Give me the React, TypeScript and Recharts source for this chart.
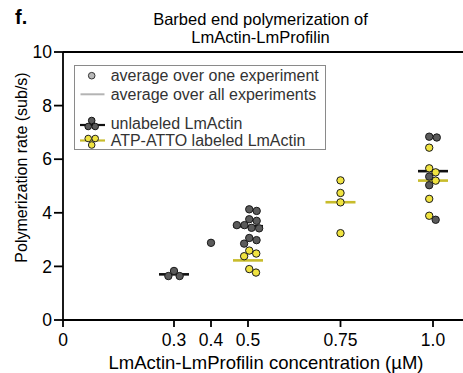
import React from 'react';
import { ScatterChart, Scatter, XAxis, YAxis, ReferenceLine, Label } from 'recharts';

// ---- data ----
const xTickValues = [0, 0.3, 0.4, 0.5, 0.75, 1.0];
const xTickLabels = ['0', '0.3', '0.4', '0.5', '0.75', '1.0'];
const yTickValues = [0, 2, 4, 6, 8, 10];

const unlabeledConc = [0.3, 0.3, 0.3, 0.4, 0.5, 0.5, 0.5, 0.5, 0.5, 0.5, 0.5, 0.5, 0.5, 0.5, 0.5, 1.0, 1.0, 1.0, 1.0, 1.0];
const unlabeledRate = [1.64, 1.83, 1.64, 2.88, 4.13, 4.07, 3.76, 3.7, 3.44, 3.42, 3.54, 3.54, 2.98, 2.85, 3.06, 6.84, 6.81, 5.35, 5.03, 3.74];

const labeledConc = [0.5, 0.5, 0.5, 0.5, 0.5, 0.75, 0.75, 0.75, 0.75, 1.0, 1.0, 1.0, 1.0, 1.0, 1.0];
const labeledRate = [2.48, 2.38, 2.59, 1.9, 1.77, 5.21, 4.74, 4.39, 3.24, 6.43, 5.66, 5.51, 5.2, 4.52, 3.89];

const title = ['Barbed end polymerization of', 'LmActin-LmProfilin'];
const xLabel = 'LmActin-LmProfilin concentration (µM)';
const yLabel = 'Polymerization rate (sub/s)';
const legendLabels = ['average over one experiment', 'average over all experiments', 'unlabeled LmActin', 'ATP-ATTO labeled LmActin'];

// ---- styling / layout ----
const FONT = '"Liberation Sans", Arial, Helvetica, sans-serif';
const CHART_W = 470;
const CHART_H = 373;
const TOP = 52;
const X_AXIS_H = 53;
const Y_AXIS_W = 63;
const PLOT_H = CHART_H - TOP - X_AXIS_H;
const PX_PER_UNIT = PLOT_H / 10;
const R = 3.7;
const D = 2 * R + 0.2;

const DARK = '#5b5b5b';
const YELLOW = '#f0e340';
const YELLOW_LINE = '#c8bc2c';

type Pt = { conc: number; rate: number; series: string; dx: number };

function buildPoints(): Pt[] {
  const pts: Pt[] = [];
  unlabeledConc.forEach((c, i) => pts.push({ conc: c, rate: unlabeledRate[i], series: 'u', dx: 0 }));
  labeledConc.forEach((c, i) => pts.push({ conc: c, rate: labeledRate[i], series: 'l', dx: 0 }));
  // beeswarm per concentration (both series together)
  const groups = new Map<number, Pt[]>();
  pts.forEach((p) => {
    if (!groups.has(p.conc)) groups.set(p.conc, []);
    groups.get(p.conc)!.push(p);
  });
  groups.forEach((g) => {
    const order = [...g].sort((a, b) => b.rate - a.rate);
    const placed: { x: number; y: number }[] = [];
    order.forEach((p) => {
      const py = p.rate * PX_PER_UNIT;
      const cands = [0];
      placed.forEach((q) => {
        const dy = py - q.y;
        if (Math.abs(dy) < D) {
          const w = Math.sqrt(D * D - dy * dy);
          cands.push(q.x + w, q.x - w);
        }
      });
      cands.sort((a, b) => Math.abs(a) - Math.abs(b));
      let chosen = 0;
      for (const c of cands) {
        const ok = placed.every((q) => (c - q.x) ** 2 + (py - q.y) ** 2 >= D * D - 1e-6);
        if (ok) {
          chosen = c;
          break;
        }
      }
      placed.push({ x: chosen, y: py });
      p.dx = chosen;
    });
    const xs = order.map((p) => p.dx);
    const mid = (Math.min(...xs) + Math.max(...xs)) / 2;
    order.forEach((p) => (p.dx -= mid));
  });
  return pts;
}

const allPoints = buildPoints();
const unlabeledData = allPoints.filter((p) => p.series === 'u');
const labeledData = allPoints.filter((p) => p.series === 'l');

function groupMeans(conc: number[], rate: number[]) {
  const m = new Map<number, number[]>();
  conc.forEach((c, i) => {
    if (!m.has(c)) m.set(c, []);
    m.get(c)!.push(rate[i]);
  });
  const out: { conc: number; rate: number }[] = [];
  m.forEach((v, c) => {
    if (v.length > 1) out.push({ conc: c, rate: v.reduce((a, b) => a + b, 0) / v.length });
  });
  return out;
}
const unlabeledMeans = groupMeans(unlabeledConc, unlabeledRate);
const labeledMeans = groupMeans(labeledConc, labeledRate);

const makeDot = (fill: string) => (props: any) => {
  const { cx, cy, payload } = props;
  if (cx == null || cy == null) return <g />;
  return <circle cx={cx + (payload?.dx || 0)} cy={cy} r={R} fill={fill} stroke="#1a1a1a" strokeWidth={1} />;
};

const makeMeanLine = (color: string) => (props: any) => {
  const { cx, cy } = props;
  if (cx == null || cy == null) return <g />;
  return <line x1={cx - 15} x2={cx + 15} y1={cy} y2={cy} stroke={color} strokeWidth={2.6} />;
};

const LegendBox = () => (
  <div
    style={{
      position: 'absolute',
      left: 74,
      top: 65,
      width: 252,
      height: 85,
      border: '1px solid #8a8a8a',
      boxSizing: 'border-box',
      background: '#fff',
    }}
  >
    <svg width={252} height={85} style={{ position: 'absolute', left: -1, top: -1, overflow: 'visible' }}>
      <g fontFamily={FONT} fontSize={16} fill="#333">
        <circle cx={17.7} cy={10.7} r={3.3} fill="#b8b8b8" stroke="#333" strokeWidth={1} />
        <text x={36.7} y={10.7} dominantBaseline="central">{legendLabels[0]}</text>
        <line x1={6.5} x2={30.5} y1={29.3} y2={29.3} stroke="#b4b4b4" strokeWidth={2} />
        <text x={36.7} y={29.3} dominantBaseline="central">{legendLabels[1]}</text>
        <line x1={6} x2={31} y1={60} y2={60} stroke="#111" strokeWidth={2.2} />
        <circle cx={17.7} cy={55.5} r={3.3} fill={DARK} stroke="#111" strokeWidth={1} />
        <circle cx={14.2} cy={61.5} r={3.3} fill={DARK} stroke="#111" strokeWidth={1} />
        <circle cx={21.2} cy={61.5} r={3.3} fill={DARK} stroke="#111" strokeWidth={1} />
        <text x={36.7} y={58.3} dominantBaseline="central">{legendLabels[2]}</text>
        <line x1={6} x2={31} y1={75.5} y2={75.5} stroke={YELLOW_LINE} strokeWidth={2.2} />
        <circle cx={14.2} cy={73.5} r={3.3} fill={YELLOW} stroke="#222" strokeWidth={1} />
        <circle cx={21.2} cy={73.5} r={3.3} fill={YELLOW} stroke="#222" strokeWidth={1} />
        <circle cx={17.7} cy={80} r={3.3} fill={YELLOW} stroke="#222" strokeWidth={1} />
        <text x={36.7} y={75.3} dominantBaseline="central">{legendLabels[3]}</text>
      </g>
    </svg>
  </div>
);

export default function App() {
  return (
    <div style={{ position: 'absolute', left: 0, top: 0, width: 463, height: 373, overflow: 'hidden', fontFamily: FONT }}>
      <ScatterChart
        width={CHART_W}
        height={CHART_H}
        margin={{ top: TOP, right: 0, bottom: 0, left: 0 }}
        style={{ fontFamily: FONT }}
      >
        <XAxis
          type="number"
          dataKey="conc"
          domain={[0, 1.1]}
          ticks={xTickValues}
          interval={0}
          tickFormatter={(v: number) => xTickLabels[xTickValues.indexOf(v)] ?? String(v)}
          height={X_AXIS_H}
          tickSize={7}
          tickMargin={7}
          axisLine={{ stroke: '#000', strokeWidth: 1.8 }}
          tickLine={{ stroke: '#000', strokeWidth: 1.8 }}
          tick={{ fill: '#000', fontSize: 17.5, fontFamily: FONT }}
          allowDataOverflow
        >
          <Label
            content={() => (
              <text x={266} y={362} textAnchor="middle" dominantBaseline="central" fontSize={18.5} fontFamily={FONT} fill="#000">
                {xLabel}
              </text>
            )}
          />
        </XAxis>
        <YAxis
          type="number"
          dataKey="rate"
          domain={[0, 10]}
          ticks={yTickValues}
          interval={0}
          width={Y_AXIS_W}
          tickSize={9}
          tickMargin={2}
          axisLine={{ stroke: '#000', strokeWidth: 1.8 }}
          tickLine={{ stroke: '#000', strokeWidth: 1.8 }}
          tick={{ fill: '#000', fontSize: 17.5, fontFamily: FONT }}
          allowDataOverflow
        >
          <Label
            content={() => (
              <text
                x={21.7}
                y={167.5}
                transform="rotate(-90, 21.7, 167.5)"
                textAnchor="middle"
                dominantBaseline="central"
                fontSize={16}
                fontFamily={FONT}
                fill="#000"
              >
                {yLabel}
              </text>
            )}
          />
        </YAxis>
        <ReferenceLine y={10} stroke="#000" strokeWidth={1.8} ifOverflow="visible" />
        <Scatter data={unlabeledMeans} shape={makeMeanLine('#111')} isAnimationActive={false} legendType="none" />
        <Scatter data={labeledMeans} shape={makeMeanLine(YELLOW_LINE)} isAnimationActive={false} legendType="none" />
        <Scatter data={unlabeledData} shape={makeDot(DARK)} isAnimationActive={false} />
        <Scatter data={labeledData} shape={makeDot(YELLOW)} isAnimationActive={false} />
      </ScatterChart>
      <LegendBox />
      <div
        style={{
          position: 'absolute',
          left: 0,
          top: 11,
          width: 521,
          textAlign: 'center',
          fontSize: 16.5,
          lineHeight: '17.5px',
          color: '#000',
        }}
      >
        <div>{title[0]}</div>
        <div>{title[1]}</div>
      </div>
      <div style={{ position: 'absolute', left: 15, top: 7, fontSize: 20, lineHeight: '20px', fontWeight: 'bold', color: '#000' }}>
        f.
      </div>
    </div>
  );
}
